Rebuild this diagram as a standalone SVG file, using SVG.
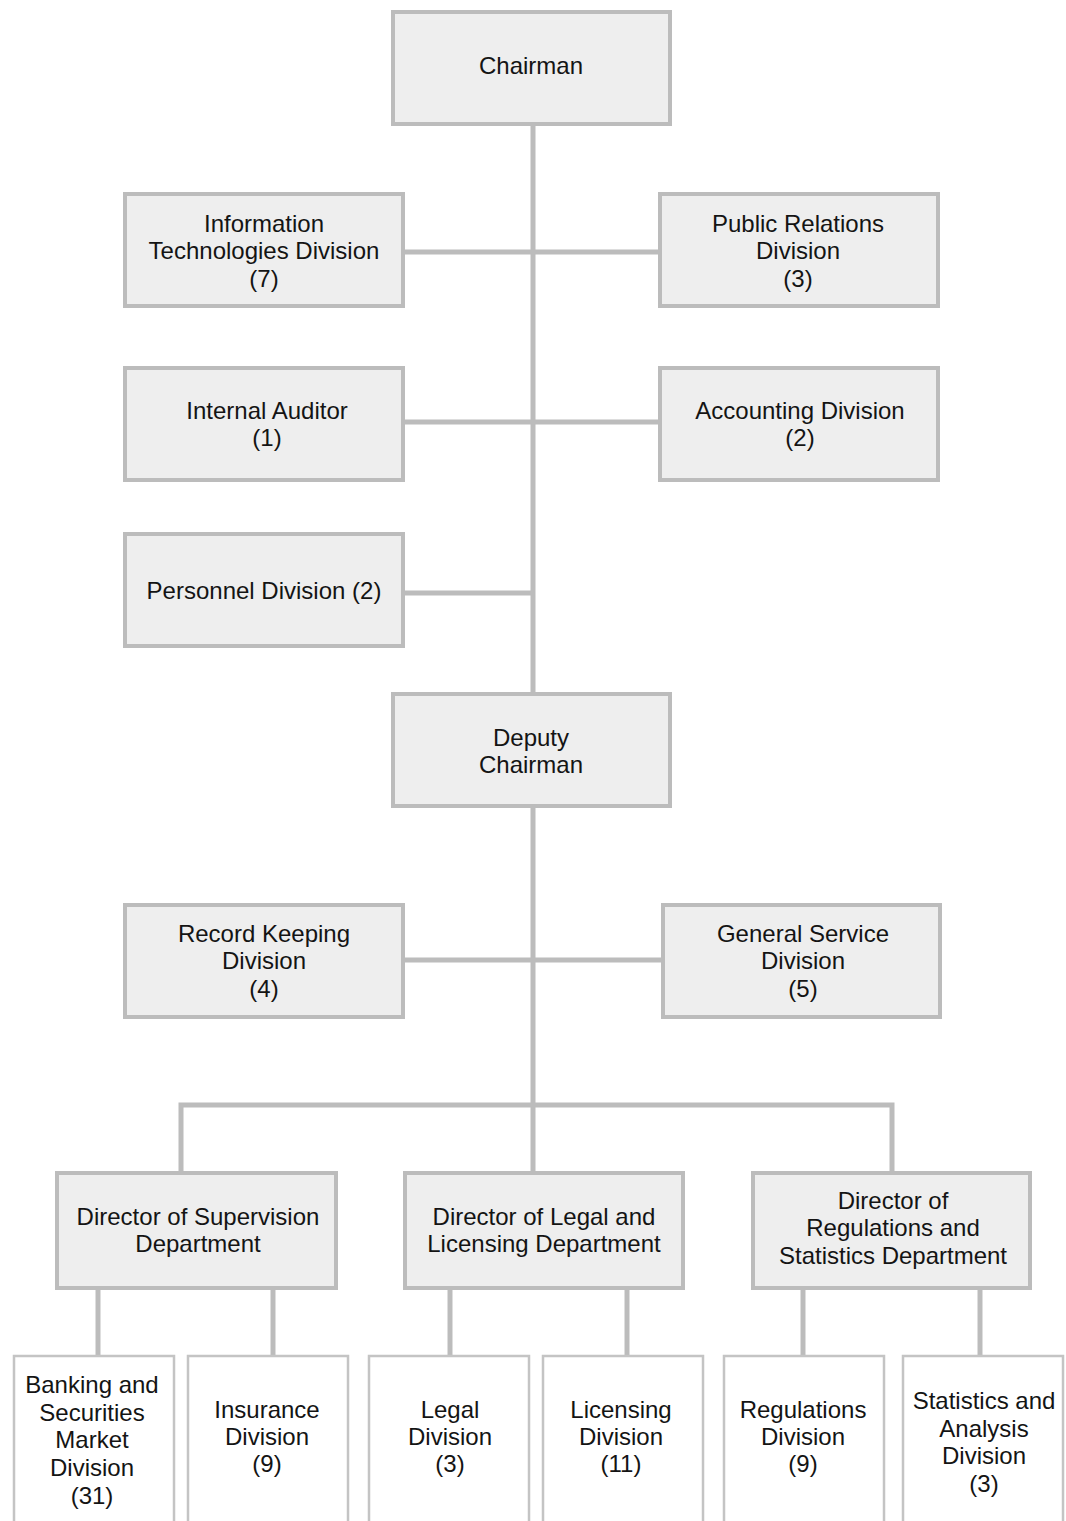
<svg xmlns="http://www.w3.org/2000/svg" width="1066" height="1521" viewBox="0 0 1066 1521">
<style>
.box{fill:#eeeeee;stroke:#bcbcbc;stroke-width:4}
.leaf{fill:#ffffff;stroke:#c4c4c4;stroke-width:2.5}
.con{stroke:#bcbcbc;stroke-width:5;fill:none}
text{font-family:"Liberation Sans",Arial,sans-serif;font-size:24px;fill:#141414;text-anchor:middle}
</style>
<rect width="1066" height="1521" fill="#ffffff"/>
<g id="connectors">
<line class="con" x1="533" y1="126" x2="533" y2="692"/>
<line class="con" x1="405" y1="252" x2="658" y2="252"/>
<line class="con" x1="405" y1="422" x2="658" y2="422"/>
<line class="con" x1="405" y1="593" x2="533" y2="593"/>
<line class="con" x1="533" y1="808" x2="533" y2="1172"/>
<line class="con" x1="405" y1="960" x2="661" y2="960"/>
<polyline class="con" points="181,1172 181,1105 892,1105 892,1172"/>
<line class="con" x1="98" y1="1290" x2="98" y2="1355"/>
<line class="con" x1="273" y1="1290" x2="273" y2="1355"/>
<line class="con" x1="450" y1="1290" x2="450" y2="1355"/>
<line class="con" x1="627" y1="1290" x2="627" y2="1355"/>
<line class="con" x1="803" y1="1290" x2="803" y2="1355"/>
<line class="con" x1="980" y1="1290" x2="980" y2="1355"/>
</g>
<g id="chairman"><rect class="box" x="393" y="12" width="277" height="112"/><text x="531" y="74">Chairman</text></g>
<g id="it"><rect class="box" x="125" y="194" width="278" height="112"/><text x="264" y="232">Information</text><text x="264" y="259">Technologies Division</text><text x="264" y="287">(7)</text></g>
<g id="pr"><rect class="box" x="660" y="194" width="278" height="112"/><text x="798" y="232">Public Relations</text><text x="798" y="259">Division</text><text x="798" y="287">(3)</text></g>
<g id="auditor"><rect class="box" x="125" y="368" width="278" height="112"/><text x="267" y="419">Internal Auditor</text><text x="267" y="446">(1)</text></g>
<g id="accounting"><rect class="box" x="660" y="368" width="278" height="112"/><text x="800" y="419">Accounting Division</text><text x="800" y="446">(2)</text></g>
<g id="personnel"><rect class="box" x="125" y="534" width="278" height="112"/><text x="264" y="599">Personnel Division (2)</text></g>
<g id="deputy"><rect class="box" x="393" y="694" width="277" height="112"/><text x="531" y="746">Deputy</text><text x="531" y="773">Chairman</text></g>
<g id="record"><rect class="box" x="125" y="905" width="278" height="112"/><text x="264" y="942">Record Keeping</text><text x="264" y="969">Division</text><text x="264" y="997">(4)</text></g>
<g id="general"><rect class="box" x="663" y="905" width="277" height="112"/><text x="803" y="942">General Service</text><text x="803" y="969">Division</text><text x="803" y="997">(5)</text></g>
<g id="dir-supervision"><rect class="box" x="57" y="1173" width="279" height="115"/><text x="198" y="1225">Director of Supervision</text><text x="198" y="1252">Department</text></g>
<g id="dir-legal"><rect class="box" x="405" y="1173" width="278" height="115"/><text x="544" y="1225">Director of Legal and</text><text x="544" y="1252">Licensing Department</text></g>
<g id="dir-regulations"><rect class="box" x="753" y="1173" width="277" height="115"/><text x="893" y="1209">Director of</text><text x="893" y="1236">Regulations and</text><text x="893" y="1264">Statistics Department</text></g>
<g id="banking"><rect class="leaf" x="14" y="1356" width="160" height="200"/><text x="92" y="1393">Banking and</text><text x="92" y="1421">Securities</text><text x="92" y="1448">Market</text><text x="92" y="1476">Division</text><text x="92" y="1504">(31)</text></g>
<g id="insurance"><rect class="leaf" x="188" y="1356" width="160" height="200"/><text x="267" y="1418">Insurance</text><text x="267" y="1445">Division</text><text x="267" y="1472">(9)</text></g>
<g id="legal"><rect class="leaf" x="369" y="1356" width="160" height="200"/><text x="450" y="1418">Legal</text><text x="450" y="1445">Division</text><text x="450" y="1472">(3)</text></g>
<g id="licensing"><rect class="leaf" x="543" y="1356" width="160" height="200"/><text x="621" y="1418">Licensing</text><text x="621" y="1445">Division</text><text x="621" y="1472">(11)</text></g>
<g id="regulations"><rect class="leaf" x="724" y="1356" width="160" height="200"/><text x="803" y="1418">Regulations</text><text x="803" y="1445">Division</text><text x="803" y="1472">(9)</text></g>
<g id="statistics"><rect class="leaf" x="903" y="1356" width="160" height="200"/><text x="984" y="1409">Statistics and</text><text x="984" y="1437">Analysis</text><text x="984" y="1464">Division</text><text x="984" y="1492">(3)</text></g>
</svg>
